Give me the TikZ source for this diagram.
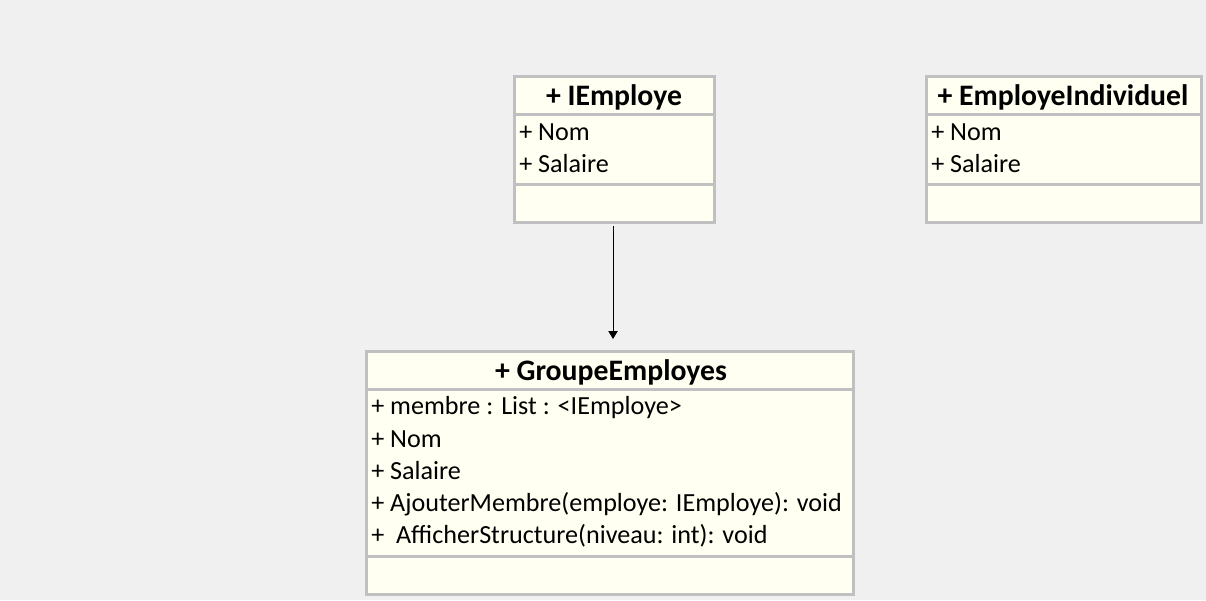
\documentclass[tikz,border=0pt]{standalone}
\usepackage{fontspec}
\setmainfont{Carlito}
\usetikzlibrary{arrows.meta}
\definecolor{bg}{HTML}{F0F0F0}
\definecolor{boxfill}{HTML}{FFFFF2}
\definecolor{boxline}{HTML}{C0C0C0}
\tikzset{
  umlbox/.style={draw=boxline, fill=boxfill, line width=2.25pt, anchor=north west, inner sep=0pt, outer sep=0pt},
  divider/.style={draw=boxline, line width=2.25pt},
  head/.style={anchor=base, inner sep=0pt, font=\fontsize{22.3}{26}\selectfont\bfseries},
  attr/.style={anchor=base west, inner sep=0pt, font=\fontsize{19.6}{23}\selectfont},
  assoc/.style={draw=black, line width=0.75pt, -{Triangle[length=6pt,width=7pt]}}
}
\begin{document}
\begin{tikzpicture}[x=0.75pt,y=-0.75pt]
\useasboundingbox (0,0) rectangle (1206,600);
\fill[bg] (0,0) rectangle (1206,600);

% IEmploye
\node[umlbox, minimum width=150pt, minimum height=109.5pt] (ie) at (514,76) {};
\draw[divider] (ie.west |- 0,114) -- (ie.east |- 0,114);
\draw[divider] (ie.west |- 0,184.5) -- (ie.east |- 0,184.5);
\node[head] (ieh) at (614,105) {+ IEmploye};
\node[attr] (ie1) at (519,140) {+ Nom};
\node[attr] (ie2) at (519,172) {+ Salaire};

% EmployeIndividuel
\node[umlbox, minimum width=206.25pt, minimum height=109.5pt] (ei) at (926,76) {};
\draw[divider] (ei.west |- 0,114) -- (ei.east |- 0,114);
\draw[divider] (ei.west |- 0,184.5) -- (ei.east |- 0,184.5);
\node[head] (eih) at (1063,105) {+ EmployeIndividuel};
\node[attr] (ei1) at (931,140) {+ Nom};
\node[attr] (ei2) at (931,172) {+ Salaire};

% GroupeEmployes
\node[umlbox, minimum width=365.25pt, minimum height=182.25pt] (ge) at (366,351) {};
\draw[divider] (ge.west |- 0,389) -- (ge.east |- 0,389);
\draw[divider] (ge.west |- 0,556) -- (ge.east |- 0,556);
\node[head] (geh) at (611,380) {+ GroupeEmployes};
\node[attr] (ge1) at (371,414) {+ membre : List : <IEmploye>};
\node[attr] (ge2) at (371,447) {+ Nom};
\node[attr] (ge3) at (371,479) {+ Salaire};
\node[attr] (ge4) at (371,511) {+ AjouterMembre(employe: IEmploye): void};
\node[attr] (ge5) at (371,543) {+ \ AfficherStructure(niveau: int): void};

% connector
\draw[assoc, shorten <=3pt, shorten >=9pt] ([xshift=-0.75pt]ie.south) -- ([xshift=-0.75pt]ie.south |- ge.north);
\end{tikzpicture}
\end{document}
